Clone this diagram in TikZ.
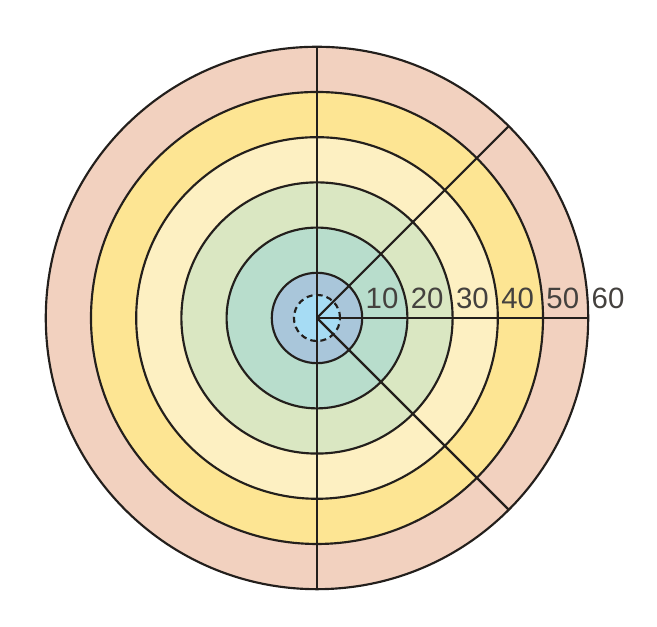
\documentclass[tikz,border=0pt]{standalone}
\usepackage{fontspec}
\setmainfont{Liberation Sans}
\definecolor{ringA}{HTML}{A9C6DA}
\definecolor{ringB}{HTML}{B8DDCC}
\definecolor{ringC}{HTML}{DAE7C2}
\definecolor{ringD}{HTML}{FDF0C2}
\definecolor{ringE}{HTML}{FDE593}
\definecolor{ringF}{HTML}{F2D1BF}
\definecolor{core}{HTML}{A6DCF4}
\definecolor{rim}{HTML}{231F1C}
\begin{document}
\begin{tikzpicture}[
    ring/.style={draw=rim, line width=1.35pt},
    spoke/.style={draw=rim, line width=1.35pt},
    dist/.style={anchor=base west, inner sep=0pt, text=rim!85,
                 font=\fontsize{18.5}{18.5}\selectfont}]

    \useasboundingbox (-7.013,-6.836) rectangle (7.522,7.035);

    % Ringe von aussen nach innen
    \foreach \r/\c in {6/ringF, 5/ringE, 4/ringD, 3/ringC, 2/ringB, 1/ringA} {
        \fill[\c] (0,0) circle (\r);
    }
    \fill[core] (0,0) circle (0.51);

    % Kreislinien
    \foreach \r in {1,...,6} {
        \draw[ring] (0,0) circle (\r);
    }

    % Strahlen
    \coordinate (c) at (0,0);
    \coordinate (top) at (90:6);
    \coordinate (bot) at (-90:6);
    \coordinate (east) at (0:6);
    \coordinate (ne) at (45:6);
    \coordinate (se) at (-45:6);
    \draw[spoke] (top) -- (bot);
    \draw[spoke] (c) -- (east);
    \draw[spoke] (c) -- (ne);
    \draw[spoke] (c) -- (se);

    % innerer Kreis gestrichelt
    \draw[ring, dash pattern=on 3.8pt off 2.6pt] (0,0) circle (0.51);

    % Beschriftung
    \foreach \r in {1,...,6} {
        \node[dist] (lab\r) at (\r+0.07,0.2) {\r0};
    }
\end{tikzpicture}
\end{document}
